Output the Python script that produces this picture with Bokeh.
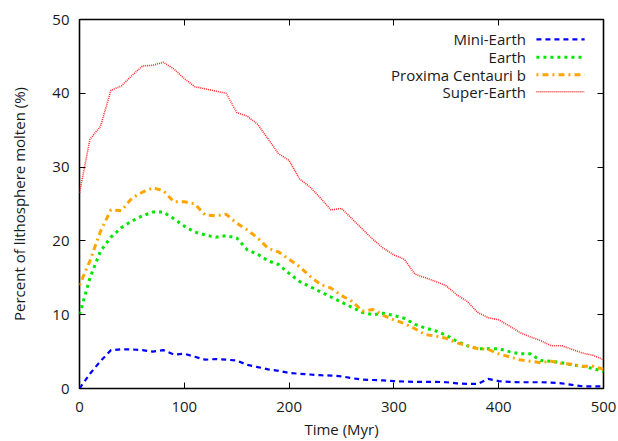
from bokeh.plotting import figure
from bokeh.models import LinearAxis, Range1d, FixedTicker
from bokeh.embed import file_html
from bokeh.resources import INLINE
from bokeh.core.properties import value

# ---------------- data ----------------
time_myr = list(range(0, 501, 10))

mini_earth = [0.0, 2.0, 3.7, 5.2, 5.3, 5.3, 5.2, 5.0, 5.2, 4.6, 4.7, 4.3, 3.9, 4.0, 3.9,
              3.8, 3.2, 2.9, 2.6, 2.4, 2.1, 2.0, 1.9, 1.8, 1.75, 1.65, 1.4, 1.2, 1.15,
              1.1, 1.0, 0.95, 0.9, 0.9, 0.9, 0.85, 0.7, 0.63, 0.63, 1.3, 1.0, 0.9, 0.85,
              0.85, 0.85, 0.8, 0.7, 0.5, 0.3, 0.3, 0.3]

earth = [10.0, 15.0, 18.6, 20.5, 21.8, 22.7, 23.4, 23.9, 23.9, 23.0, 22.0, 21.2, 20.8,
         20.5, 20.7, 20.4, 18.8, 18.2, 17.3, 16.8, 15.6, 14.5, 13.8, 13.1, 12.4, 11.7,
         11.0, 10.3, 10.0, 10.2, 9.9, 9.5, 8.7, 8.2, 7.8, 7.2, 6.4, 5.8, 5.4, 5.4, 5.4,
         5.0, 4.7, 4.7, 3.8, 3.7, 3.5, 3.2, 3.0, 2.7, 2.3]

proxima_b = [14.0, 17.3, 21.3, 24.2, 24.1, 25.8, 26.6, 27.2, 26.8, 25.3, 25.3, 25.0, 23.5,
             23.4, 23.6, 22.4, 21.5, 20.4, 19.0, 18.5, 17.5, 16.5, 15.2, 14.1, 13.6, 12.6,
             11.8, 10.5, 10.7, 9.9, 9.3, 8.8, 8.1, 7.3, 7.1, 6.8, 6.2, 5.8, 5.4, 5.3, 4.7,
             4.3, 3.9, 3.7, 3.5, 3.7, 3.4, 3.3, 3.0, 3.0, 2.6]

super_earth = [26.5, 33.8, 35.5, 40.4, 41.0, 42.4, 43.7, 43.8, 44.2, 43.3, 42.0, 40.9, 40.6,
               40.3, 40.0, 37.4, 36.9, 35.8, 33.8, 31.8, 30.9, 28.4, 27.3, 25.8, 24.2, 24.4,
               23.0, 21.6, 20.2, 19.0, 18.1, 17.5, 15.5, 15.0, 14.5, 13.9, 12.7, 11.8, 10.3,
               9.6, 9.3, 8.5, 7.6, 7.0, 6.5, 5.8, 5.8, 5.3, 4.8, 4.5, 3.9]

series_names = ["Mini-Earth", "Earth", "Proxima Centauri b", "Super-Earth"]
x_ticks = [0, 100, 200, 300, 400, 500]
y_ticks = [0, 10, 20, 30, 40, 50]

# ---------------- styling ----------------
FONT = "Open Sans"
TXT = "#1a1a1a"
styles = [
    dict(color="#0000ff", line_width=2.2, line_dash="5 4"),
    dict(color="#00e600", line_width=3.0, line_dash="3 4"),
    dict(color="#ffa500", line_width=3.0, line_dash="2 4 6 4"),
    dict(color="#ff2a2a", line_width=1.6, line_dash="1 1"),
]

p = figure(width=618, height=441, output_backend="svg", toolbar_location=None,
           x_range=Range1d(0, 500), y_range=Range1d(0, 50),
           min_border_left=79, min_border_right=15, min_border_top=19,
           min_border_bottom=52)
p.background_fill_color = "white"
p.border_fill_color = "white"
p.outline_line_color = "black"
p.outline_line_width = 1.6
p.xgrid.visible = False
p.ygrid.visible = False

p.xaxis.ticker = FixedTicker(ticks=x_ticks)
p.yaxis.ticker = FixedTicker(ticks=y_ticks)
for ax in (p.xaxis[0], p.yaxis[0]):
    ax.axis_line_color = None
    ax.major_tick_in = 6
    ax.major_tick_out = 0
    ax.minor_tick_line_color = None
    ax.major_tick_line_color = "black"
    ax.major_label_text_font = FONT
    ax.major_label_text_font_size = "15px"
    ax.major_label_text_color = TXT
    ax.axis_label_text_font = FONT
    ax.axis_label_text_font_size = "15px"
    ax.axis_label_text_font_style = "normal"
    ax.axis_label_text_color = TXT

p.xaxis.axis_label = "Time (Myr)"
p.yaxis.axis_label = "Percent of lithosphere molten (%)"
p.xaxis.major_label_standoff = 13
p.xaxis.axis_label_standoff = 4
p.yaxis.major_label_standoff = 10
p.yaxis.axis_label_standoff = 20

# mirror ticks on top / right (no labels drawn)
top = LinearAxis(ticker=FixedTicker(ticks=x_ticks))
right = LinearAxis(ticker=FixedTicker(ticks=y_ticks))
for ax in (top, right):
    ax.axis_line_color = None
    ax.major_tick_in = 6
    ax.major_tick_out = 0
    ax.minor_tick_line_color = None
    ax.major_label_text_color = None
    ax.major_label_text_alpha = 0
    ax.major_label_standoff = 0
p.add_layout(top, "above")
p.add_layout(right, "right")

all_series = [mini_earth, earth, proxima_b, super_earth]
for ys, st in zip(all_series, styles):
    p.line(time_myr, ys, line_color=st["color"], line_width=st["line_width"],
           line_dash=st["line_dash"], line_join="round")

# ---------------- gnuplot-style legend (label right-aligned, sample at right) ----------------
leg_text_x = 426
leg_line_x = [436, 482]
leg_rows = [47.3, 44.9, 42.5, 40.2]
for name, st, ly in zip(series_names, styles, leg_rows):
    p.text(x=[leg_text_x], y=[ly], text=[name], text_align="right",
           text_baseline="middle", text_font=value(FONT), text_font_size="15px",
           text_color=TXT)
    p.line(leg_line_x, [ly, ly], line_color=st["color"], line_width=st["line_width"],
           line_dash=st["line_dash"])

open("out.html", "w").write(file_html(p, INLINE))
